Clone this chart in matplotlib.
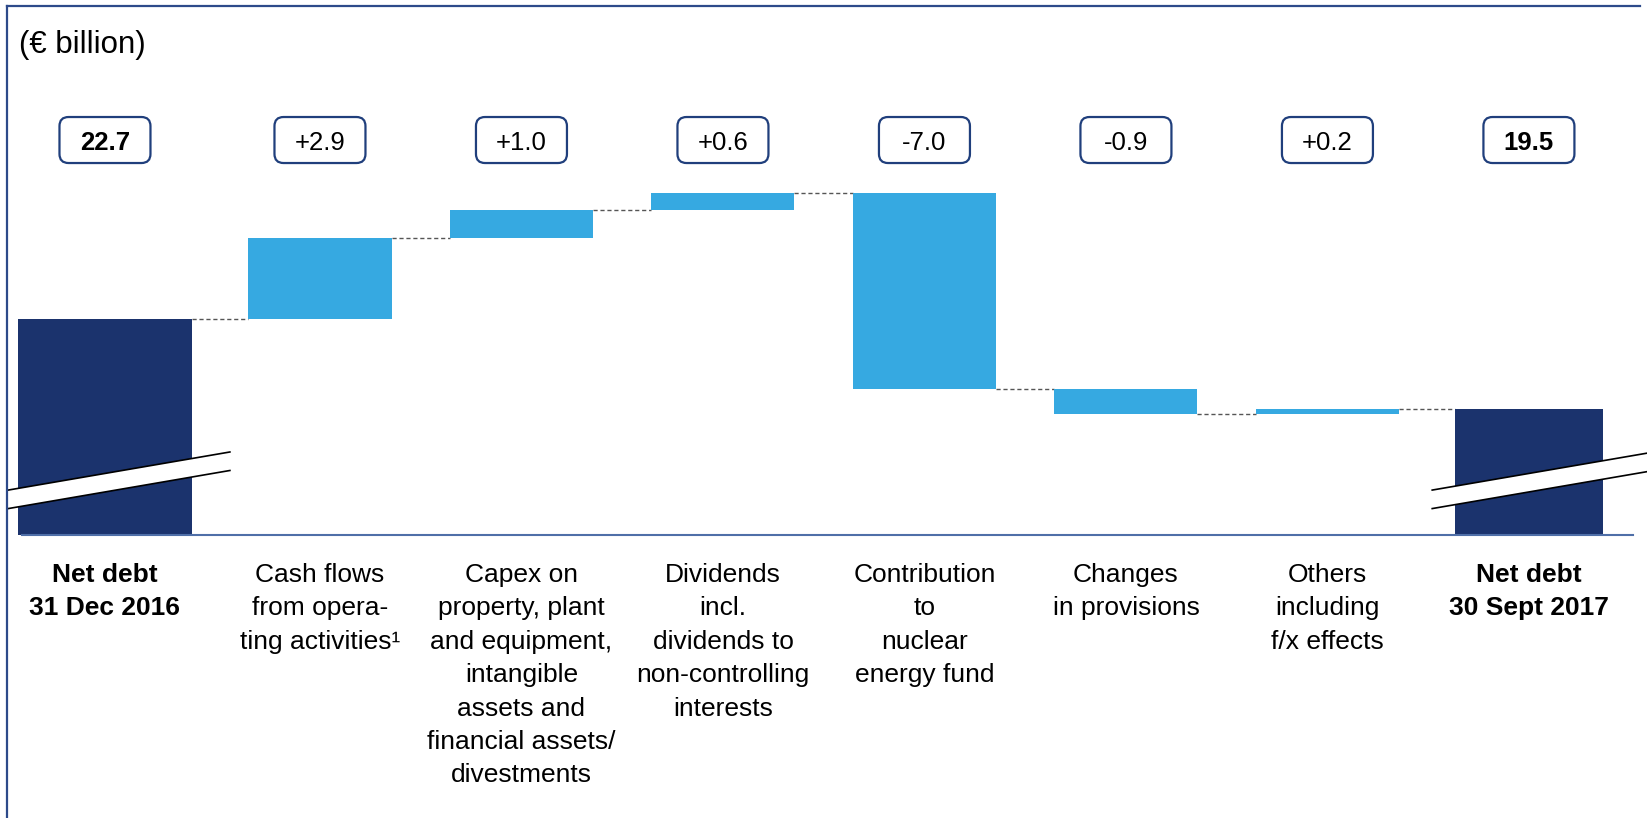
import numpy as np
import matplotlib
matplotlib.use('Agg')
import matplotlib.pyplot as plt
from matplotlib.patches import FancyBboxPatch, Polygon
from matplotlib.lines import Line2D

plt.rcParams['font.family'] = ['Liberation Sans', 'DejaVu Sans']

# data
categories = ['Net debt\n31 Dec 2016',
              'Cash flows\nfrom opera-\nting activities\u00b9',
              'Capex on\nproperty, plant\nand equipment,\nintangible\nassets and\nfinancial assets/\ndivestments',
              'Dividends\nincl.\ndividends to\nnon-controlling\ninterests',
              'Contribution\nto\nnuclear\nenergy fund',
              'Changes\nin provisions',
              'Others\nincluding\nf/x effects',
              'Net debt\n30 Sept 2017']
values = [22.7, 2.9, 1.0, 0.6, -7.0, -0.9, 0.2, 19.5]
is_total = [True, False, False, False, False, False, False, True]
labels = ['22.7', '+2.9', '+1.0', '+0.6', '-7.0', '-0.9', '+0.2', '19.5']

NAVY = '#1b336d'
LIGHT = '#36a9e1'
EDGE = '#203f7c'
BASE = 15.0  # broken axis base

fig = plt.figure(figsize=(16.47, 8.18), dpi=100)
ax = fig.add_axes([0, 0, 1, 1])
ax.set_xlim(-0.588, 7.586)
ax.set_ylim(4.88, 34.09)
ax.axis('off')

px_x = 201.5  # pixels per x unit
px_y = 28.0   # pixels per y unit

x = np.arange(len(values), dtype=float)
x[0] -= 0.067

running = 0.0
levels = []
for i, v in enumerate(values):
    if is_total[i]:
        w = 0.864 if i == 0 else 0.734
        ax.bar(x[i], v - BASE, bottom=BASE, width=w, color=NAVY, zorder=2)
        running = v
        levels.append((running, w))
    else:
        lo = min(running, running + v)
        ax.bar(x[i], abs(v), bottom=lo, width=0.71, color=LIGHT, zorder=2)
        running = running + v
        levels.append((running, 0.71))

# connectors
for i in range(len(values) - 1):
    lvl, w = levels[i]
    w2 = levels[i + 1][1]
    ax.plot([x[i] + w / 2, x[i + 1] - w2 / 2], [lvl, lvl], color='#555555',
            lw=1.0, dashes=(3, 2), zorder=1)

# baseline
ax.plot([-0.479, 7.516], [BASE, BASE], color='#4f6fa8', lw=1.5, zorder=3)

# axis break marks on total bars
gap = 18.5 / px_y
for i in range(len(values)):
    if not is_total[i]:
        continue
    xl, xr = x[i] - 0.48, x[i] + 0.62
    yl, yr = 16.59, 17.95
    ax.add_patch(Polygon([[xl, yl], [xr, yr], [xr, yr - gap], [xl, yl - gap]],
                         closed=True, facecolor='white', edgecolor='none', zorder=4))
    ax.plot([xl, xr], [yl, yr], color='black', lw=1.2, zorder=5)
    ax.plot([xl, xr], [yl - gap, yr - gap], color='black', lw=1.2, zorder=5)

# value boxes
box_w = 91 / px_x
box_h = 46 / px_y
box_c = 29.09
for i, lab in enumerate(labels):
    ax.add_patch(FancyBboxPatch((x[i] - box_w / 2, box_c - box_h / 2), box_w, box_h,
                                boxstyle='round,pad=0,rounding_size=0.045',
                                mutation_aspect=px_x / px_y,
                                facecolor='white', edgecolor=EDGE, lw=1.6, zorder=6))
    ax.text(x[i], 28.74, lab, ha='center', va='baseline', fontsize=18.5,
            fontweight='bold' if is_total[i] else 'normal', color='black', zorder=7)

# category labels
line_dy = 33.4 / px_y
for i, cat in enumerate(categories):
    for k, line in enumerate(cat.split('\n')):
        ax.text(x[i], 13.31 - k * line_dy, line, ha='center', va='baseline',
                fontsize=19, fontweight='bold' if is_total[i] else 'normal',
                color='black')

ax.text(-0.494, 32.2, '(\u20ac billion)', ha='left', va='baseline', fontsize=22.5)

# frame lines (top and left)
W, H = 1647.0, 818.0
fig.add_artist(Line2D([7 / W, 1640 / W], [1 - 6 / H, 1 - 6 / H], color='#2d4a8a', lw=1.6))
fig.add_artist(Line2D([7 / W, 7 / W], [0, 1 - 6 / H], color='#2d4a8a', lw=1.6))

fig.savefig('out.png', dpi=100)
